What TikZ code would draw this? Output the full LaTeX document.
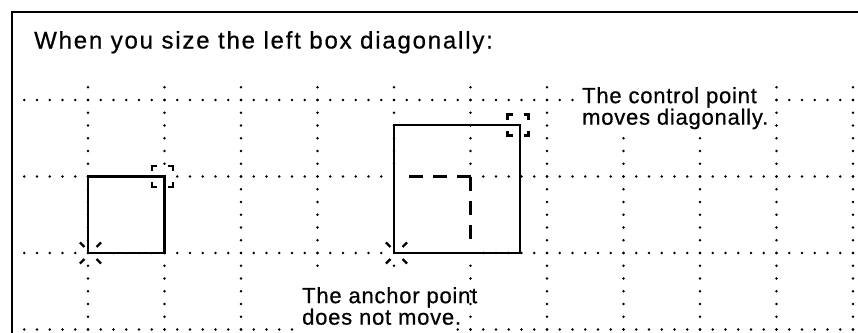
\documentclass[tikz,border=0pt]{standalone}
\usepackage{fontspec}
\setmainfont{Liberation Sans}
\newfontfamily\headfont[LetterSpace=7.5, FakeBold=0.6]{Liberation Sans}
\newfontfamily\notefont[LetterSpace=3.5, FakeBold=0.6]{Liberation Sans}
\begin{document}
\begin{tikzpicture}[
    x=1pt, y=-1pt,
    griddot/.style={fill=black},
    mask/.style={fill=white},
    sizebox/.style={draw, line width=2.6pt, outer sep=0pt, inner sep=0pt, anchor=south west},
    ghost/.style={line width=2.6pt, dash pattern=on 14pt off 10pt},
    ctrl/.style={line width=2.2pt},
    ray/.style={line width=2.2pt},
    note/.style={anchor=north west, inner sep=0pt, align=left, font=\notefont\fontsize{22}{17}\selectfont}
]
    \useasboundingbox (0,0) rectangle (858,332);
    % frame
    \draw[line width=2.4pt] (12,340) -- (12,12) -- (866,12);
    \node[anchor=base west, inner sep=0pt, font=\headfont\fontsize{24}{28}\selectfont] (title) at (34,48.5)
        {When you size the left box diagonally:};
    % dotted grid
    \foreach \r in {100,176.5,253,329.5}
        \foreach \i in {0,...,65}
            \fill[griddot] (24.25+12.75*\i, \r) circle (1.3);
    \foreach \k in {0,...,10}
        \foreach \j in {0,...,19}
            \fill[griddot] (88+76.5*\k, 87.25+12.75*\j) circle (1.3);
    % white under the notes
    \fill[mask] (576,82) rectangle (771,131);
    \fill[mask] (296,272) rectangle (455,340);
    % boxes
    \node[sizebox, draw=white, line width=3.5pt, fill=white, minimum width=76.5, minimum height=76.5] (orig) at (394,253) {};
    \node[sizebox, minimum width=126, minimum height=128] (big) at (394,253) {};
    \node[sizebox, fill=white, minimum width=76.5, minimum height=76.5] (small) at (88,253) {};
    \draw[ghost] (orig.north east) -- ++(-66,0);
    \draw[ghost] (orig.north east) -- ++(0,65);
    % control and anchor points
    \foreach \c in {small,big} {
        \foreach \sx/\sy in {1/1,1/-1,-1/1,-1/-1}
            \draw[ctrl] ([shift={(\sx*5.5-2,\sy*10.5)}]\c.north east)
                -- ([shift={(\sx*10.5-2,\sy*10.5)}]\c.north east)
                -- ([shift={(\sx*10.5-2,\sy*5.5)}]\c.north east);
        \foreach \a in {45,135,225,315}
            \draw[ray] ([xshift=2.5pt, shift={(\a:8.5)}]\c.south west)
                -- ([xshift=2.5pt, shift={(\a:15)}]\c.south west);
    }
    \node[note] (ctrltext) at (582,87) {The control point\\moves diagonally.};
    \node[note] (anchortext) at (302,287) {The anchor point\\does not move.};
\end{tikzpicture}
\end{document}
